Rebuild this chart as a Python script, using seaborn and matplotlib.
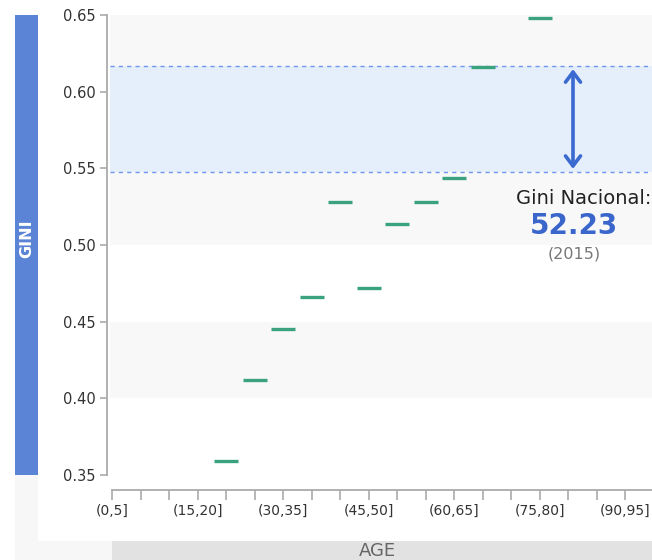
import numpy as np
import pandas as pd
import matplotlib
matplotlib.use("Agg")
import matplotlib.pyplot as plt
from matplotlib.patches import Rectangle
import seaborn as sns

categories = ["(0,5]", "(5,10]", "(10,15]", "(15,20]", "(20,25]", "(25,30]",
              "(30,35]", "(35,40]", "(40,45]", "(45,50]", "(50,55]", "(55,60]",
              "(60,65]", "(65,70]", "(70,75]", "(75,80]", "(80,85]", "(85,90]",
              "(90,95]"]
gini = [np.nan, np.nan, np.nan, np.nan, 0.359, 0.412, 0.445, 0.466, 0.528,
        0.472, 0.514, 0.528, 0.544, 0.616, np.nan, 0.648, np.nan, np.nan, np.nan]
band_low, band_high = 0.5476, 0.6167
yticks = [0.35, 0.40, 0.45, 0.50, 0.55, 0.60, 0.65]

sns.set_theme(style="white")
plt.rcParams['font.family'] = ['DejaVu Sans']

W, H = 652, 560
fig = plt.figure(figsize=(W / 100, H / 100), dpi=100)
fig.patch.set_facecolor("white")

def rect(x0, y0, x1, y1, color, z):
    fig.patches.append(Rectangle((x0 / W, 1 - y1 / H), (x1 - x0) / W, (y1 - y0) / H,
                                 transform=fig.transFigure, facecolor=color,
                                 edgecolor="none", zorder=z))

rect(15, 15, W, H, "#f7f7f7", 0)
rect(38, 0, W, 541, "white", 1)
rect(15, 15, 38, 475, "#5b84d6", 2)
rect(112, 541, W, H, "#e2e2e2", 2)

fig.text(27 / W, 1 - 239 / H, "GINI", rotation=90, color="white",
         fontsize=11.5, fontweight="bold", ha="center", va="center", zorder=3)
fig.text(377 / W, 1 - 551 / H, "AGE", color="#666666", fontsize=13,
         ha="center", va="center", zorder=3)

ax = fig.add_axes([110 / W, 1 - 475 / H, (W - 110) / W, 460 / H])
ax.set_facecolor("white")
ax.set_zorder(4)

for lo in [0.40, 0.50, 0.60]:
    ax.axhspan(lo, lo + 0.05, color="#f8f8f8", zorder=0, lw=0)
ax.axhspan(band_low, band_high, color="#e5eefb", zorder=1, lw=0)
for yv in [band_low, band_high]:
    ax.axhline(yv, color="#6d96ee", lw=1, dashes=(3, 3), zorder=2)

df = pd.DataFrame({"pos": np.arange(len(categories)), "gini": gini}).dropna()
sns.scatterplot(data=df, x="pos", y="gini", marker="_", s=285, color="#3ba27e",
                linewidth=2.4, ax=ax, zorder=5, legend=False)

arrow_x = (573 - 112.3) / 28.5
ax.annotate("", xy=(arrow_x, band_high - 0.002), xytext=(arrow_x, band_low + 0.002),
            arrowprops=dict(arrowstyle="<->,head_length=0.6,head_width=0.45",
                            color="#3a69d0", lw=2.6, shrinkA=0, shrinkB=0),
            zorder=6)

fig.text(651 / W, 1 - 198 / H, "Gini Nacional:", color="#222222", fontsize=14,
         ha="right", va="center", zorder=6)
fig.text(574 / W, 1 - 226 / H, "52.23", color="#3a66cc", fontsize=20,
         fontweight="bold", ha="center", va="center", zorder=6)
fig.text(574 / W, 1 - 254 / H, "(2015)", color="#777777", fontsize=11.5,
         ha="center", va="center", zorder=6)

ax.set_ylim(0.35, 0.65)
ax.set_xlim((110 - 112.3) / 28.5, (652 - 112.3) / 28.5)
ax.set_yticks(yticks)
ax.set_yticklabels([f"{v:.2f}" for v in yticks])
ax.set_xticks(np.arange(len(categories)))
ax.set_xticklabels([c if i % 3 == 0 else "" for i, c in enumerate(categories)])
ax.set_xlabel("")
ax.set_ylabel("")

for s in ["top", "right"]:
    ax.spines[s].set_visible(False)
for s in ["left", "bottom"]:
    ax.spines[s].set_color("#aaaaaa")
    ax.spines[s].set_linewidth(1.3)
ax.spines["left"].set_position(("outward", 2.2))
ax.spines["bottom"].set_position(("outward", 10.8))
ax.spines["left"].set_bounds(0.35, 0.65)
ax.spines["bottom"].set_bounds(0, (652 - 112.3) / 28.5)

ax.tick_params(axis="y", which="both", left=True, length=5, width=1.2,
               color="#aaaaaa", labelcolor="#333333", labelsize=10.5, pad=3)
ax.tick_params(axis="x", which="both", bottom=True, length=7, width=1.2,
               color="#aaaaaa", labelcolor="#333333", labelsize=10, pad=3)

fig.savefig("out.png", dpi=100)
